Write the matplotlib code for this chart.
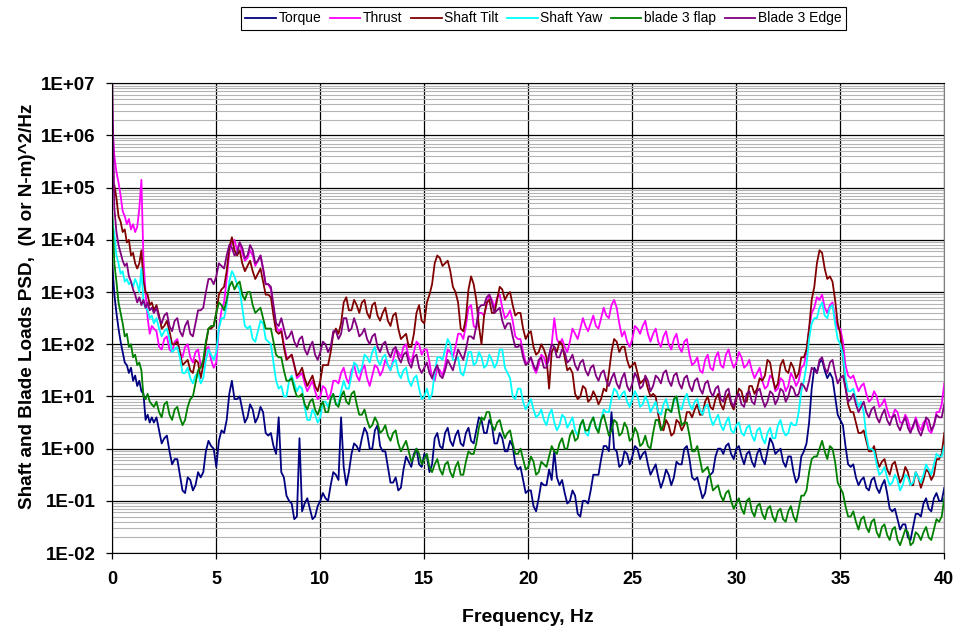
import numpy as np
import matplotlib
matplotlib.use("Agg")
import matplotlib.pyplot as plt
from matplotlib.ticker import FuncFormatter, LogLocator, NullFormatter

plt.rcParams["font.family"] = ["Liberation Sans", "DejaVu Sans"]

# frequency grid, Hz: 0.1 Hz steps below 2 Hz, then 0.25 Hz steps up to 40 Hz
freq = np.concatenate([np.arange(20) / 10.0, 2.0 + np.arange(153) * 0.25])
# extra readings half way between the 0.25 Hz points (2.125 ... 39.875 Hz)
freq_mid = 2.125 + np.arange(152) * 0.25

# PSD values, stored as log10 of (N or N-m)^2/Hz
torque_log = [
    3.55, 2.95, 2.6, 2.3, 2.05, 1.85, 1.65, 1.6, 1.45, 1.55,
    1.3, 1.4, 1.2, 1.3, 1.1, 1.05, 0.55, 0.65, 0.5, 0.6,
    0.5, 0.35, 0.2, -0.05,
    -0.2, -0.5, -0.85, -0.6,
    -0.7, -0.55, -0.05, 0.05,
    -0.35, 0.35, 0.55, 1.3,
    0.95, 0.75, 0.6, 0.75,
    0.6, 0.7, 0.25, 0.05,
    0.6, -0.55, -1.0, -1.35,
    0.2, -1.05, -1.15, -1.3,
    -1.0, -0.95, -0.7, -0.5,
    0.6, -0.7, -0.1, 0.05,
    0.2, 0.3, 0.0, 0.45,
    -0.05, -0.35, -0.65, -0.8,
    -0.4, -0.25, -0.1, -0.3,
    -0.1, -0.45, 0.2, 0.05,
    0.3, 0.15, 0.25, 0.1,
    0.3, 0.15, 0.35, 0.55,
    0.3, 0.45, 0.1, 0.2,
    -0.05, 0.05, -0.4, -0.6,
    -0.8, -1.1, -0.95, -0.7,
    -0.4, -0.05, -0.7, -0.85,
    -1.0, -0.9, -1.3, -1.0,
    -0.8, -0.5, -0.2, 0.05,
    0.7, -0.05, -0.3, -0.1,
    -0.15, 0.0, -0.1, -0.3,
    -0.4, -0.55, -0.6, -0.5,
    -0.55, -0.3, 0.0, -0.2,
    -0.6, -0.75, -0.85, -0.5,
    -0.15, 0.0, 0.05, -0.1,
    0.0, -0.15, -0.1, -0.25,
    -0.1, -0.2, -0.05, 0.1,
    -0.05, -0.25, -0.15, -0.45,
    -0.55, -0.05, 0.5, 1.55,
    1.65, 1.5, 1.45, 1.0,
    0.55, 0.05, -0.35, -0.55,
    -0.6, -0.75, -0.6, -0.75,
    -0.7, -0.85, -1.2, -1.35,
    -1.45, -1.7, -1.5, -1.25,
    -1.05, -1.15, -0.95, -1.0,
    -0.75,
]
torque_mid_log = [
    0.6, 0.1, 0.25, -0.3,
    -0.2, -0.8, -0.55, -0.8,
    -0.45, -0.45, 0.15, 0.0,
    0.15, 0.3, 1.05, 0.95,
    1.0, 0.5, 0.85, 0.5,
    0.8, 0.3, 0.3, -0.1,
    -0.45, -0.9, -1.05, -1.3,
    -1.2, -0.95, -1.35, -1.1,
    -0.85, -1.0, -0.45, -0.6,
    -0.35, -0.45, 0.1, -0.05,
    0.4, 0.0, 0.35, 0.05,
    -0.05, -0.65, -0.55, -0.75,
    -0.15, -0.35, 0.0, -0.35,
    -0.15, -0.3, 0.3, 0.0,
    0.4, 0.05, 0.35, 0.05,
    0.4, 0.1, 0.6, 0.3,
    0.55, 0.1, 0.3, -0.05,
    0.15, -0.3, -0.35, -0.85,
    -0.8, -1.2, -0.65, -0.7,
    -0.6, -0.55, -0.6, -1.05,
    -0.8, -1.25, -1.0, -1.05,
    -0.5, -0.5, 0.05, -0.05,
    0.0, -0.35, -0.05, -0.3,
    0.05, -0.2, -0.05, -0.5,
    -0.3, -0.75, -0.4, -0.7,
    -0.25, -0.3, 0.05, -0.55,
    -0.55, -0.95, -0.55, -0.45,
    0.0, -0.1, 0.1, -0.2,
    0.05, -0.3, -0.05, -0.35,
    0.0, -0.3, 0.2, -0.1,
    0.0, -0.35, -0.15, -0.65,
    -0.15, 0.1, 1.15, 1.45,
    1.7, 1.35, 1.35, 0.65,
    0.45, -0.3, -0.3, -0.7,
    -0.55, -0.8, -0.55, -0.85,
    -0.6, -1.15, -1.15, -1.55,
    -1.45, -1.75, -1.25, -1.3,
    -0.95, -1.2, -0.85, -1.0,
]

thrust_log = [
    6.2, 5.6, 5.3, 5.1, 4.85, 4.55, 4.45, 4.3, 4.4, 4.2,
    4.3, 4.15, 4.25, 4.6, 5.15, 3.6, 3.0, 2.5, 2.2, 2.35,
    2.3, 1.95, 2.1, 1.9,
    2.05, 1.85, 1.95, 1.75,
    1.85, 1.6, 1.9, 1.7,
    1.65, 2.65, 3.25, 3.95,
    3.8, 3.75, 3.65, 3.7,
    3.6, 3.45, 3.15, 2.7,
    2.25, 2.0, 1.75, 1.6,
    1.4, 1.25, 1.2, 1.1,
    1.0, 1.15, 1.05, 1.3,
    1.45, 1.35, 1.5, 1.4,
    1.5, 1.35, 1.4, 1.55,
    1.5, 1.6, 1.7, 1.85,
    1.95, 1.75, 1.85, 2.0,
    1.9, 1.65, 1.3, 1.5,
    1.6, 1.85, 1.95, 2.2,
    2.35, 2.75, 2.3, 2.6,
    2.75, 2.85, 2.9, 2.7,
    2.55, 2.45, 2.1, 1.85,
    1.65, 1.55, 1.6, 1.75,
    1.7, 2.5, 2.0, 1.95,
    2.05, 2.2, 2.3, 2.35,
    2.4, 2.35, 2.5, 2.55,
    2.75, 2.7, 2.15, 2.05,
    2.1, 2.3, 2.35, 2.2,
    2.2, 2.05, 2.15, 2.0,
    2.1, 1.95, 2.05, 1.8,
    1.65, 1.5, 1.7, 1.55,
    1.75, 1.6, 1.8, 1.7,
    1.65, 1.75, 1.6, 1.5,
    1.45, 1.3, 1.2, 1.35,
    1.15, 1.3, 1.2, 1.35,
    1.3, 1.6, 2.3, 2.7,
    2.85, 2.7, 2.75, 2.5,
    2.3, 1.6, 1.35, 1.25,
    1.2, 1.05, 0.95, 1.0,
    0.85, 0.75, 0.6, 0.7,
    0.5, 0.55, 0.4, 0.45,
    0.5, 0.35, 0.45, 0.7,
    1.25,
]
thrust_mid_log = [
    2.25, 1.9, 2.15, 1.85,
    2.1, 1.75, 2.0, 1.65,
    1.9, 1.6, 1.95, 1.55,
    2.3, 2.8, 3.75, 4.0,
    3.95, 3.6, 3.8, 3.5,
    3.7, 3.15, 3.05, 2.35,
    2.3, 1.75, 1.8, 1.35,
    1.45, 1.1, 1.3, 0.95,
    1.2, 0.95, 1.3, 1.25,
    1.55, 1.25, 1.6, 1.3,
    1.6, 1.2, 1.6, 1.4,
    1.7, 1.5, 1.9, 1.75,
    2.0, 1.65, 2.05, 1.8,
    1.9, 1.35, 1.55, 1.4,
    1.9, 1.75, 2.2, 2.1,
    2.7, 2.35, 2.6, 2.55,
    2.95, 2.7, 2.95, 2.5,
    2.65, 2.15, 2.1, 1.65,
    1.75, 1.45, 1.8, 1.6,
    2.0, 2.1, 2.1, 1.85,
    2.3, 2.1, 2.5, 2.25,
    2.55, 2.3, 2.7, 2.5,
    2.85, 2.4, 2.25, 1.95,
    2.35, 2.2, 2.45, 2.05,
    2.3, 1.95, 2.25, 1.9,
    2.2, 1.85, 2.1, 1.6,
    1.75, 1.45, 1.8, 1.5,
    1.85, 1.55, 1.9, 1.55,
    1.85, 1.55, 1.7, 1.35,
    1.55, 1.15, 1.4, 1.1,
    1.35, 1.1, 1.45, 1.2,
    1.55, 1.85, 2.6, 2.9,
    2.95, 2.6, 2.8, 2.3,
    2.05, 1.4, 1.4, 1.1,
    1.25, 0.9, 1.1, 0.8,
    0.95, 0.6, 0.75, 0.5,
    0.65, 0.35, 0.6, 0.35,
    0.55, 0.3, 0.7, 0.85,
]

tilt_log = [
    4.9, 5.05, 4.8, 4.45, 4.35, 4.15, 4.2, 3.95, 4.0, 3.7,
    3.75, 3.55, 3.45, 3.55, 3.8, 3.2, 3.0, 2.95, 2.75, 2.8,
    2.65, 2.55, 2.35, 2.25,
    2.0, 1.85, 1.65, 1.5,
    1.7, 1.35, 2.0, 2.3,
    2.6, 3.05, 3.4, 4.05,
    3.7, 3.55, 3.5, 3.4,
    3.35, 3.2, 2.95, 2.55,
    2.2, 1.95, 1.75, 1.6,
    1.45, 1.35, 1.3, 1.2,
    1.3, 1.6, 1.85, 2.3,
    2.4, 2.9, 2.65, 2.75,
    2.8, 2.6, 2.75, 2.55,
    2.6, 2.45, 2.55, 2.3,
    2.15, 1.95, 2.2, 2.75,
    2.4, 2.95, 3.55, 3.65,
    3.55, 3.4, 3.0, 2.3,
    2.5, 3.3, 2.85, 2.0,
    2.8, 2.6, 2.85, 3.05,
    2.95, 2.75, 2.6, 2.3,
    2.2, 1.95, 1.85, 1.9,
    1.15, 1.95, 2.05, 1.75,
    1.55, 1.05, 1.0, 1.15,
    0.95, 1.0, 0.95, 1.1,
    1.85, 2.05, 1.95, 1.7,
    1.6, 1.45, 1.3, 1.15,
    1.05, 0.65, 0.35, 0.45,
    0.3, 0.5, 0.45, 0.7,
    0.75, 0.65, 0.9, 0.8,
    0.95, 0.85, 0.95, 0.85,
    0.95, 1.1, 0.9, 1.2,
    1.15, 1.3, 1.7, 1.35,
    1.25, 1.7, 1.45, 1.55,
    1.45, 1.75, 2.3, 3.1,
    3.8, 3.45, 3.3, 2.85,
    2.2, 1.2, 0.7, 0.5,
    0.3, 0.15, -0.05, -0.2,
    -0.25, -0.4, -0.3, -0.45,
    -0.55, -0.45, -0.7, -0.55,
    -0.6, -0.45, -0.5, -0.2,
    0.3,
]
tilt_mid_log = [
    2.75, 2.3, 2.45, 2.0,
    2.05, 1.6, 1.7, 1.45,
    1.65, 1.6, 2.3, 2.35,
    2.95, 3.1, 3.85, 3.8,
    3.8, 3.4, 3.6, 3.25,
    3.45, 2.95, 2.9, 2.25,
    2.25, 1.7, 1.8, 1.4,
    1.55, 1.2, 1.4, 1.1,
    1.6, 1.6, 2.2, 2.2,
    2.8, 2.65, 2.85, 2.6,
    2.85, 2.5, 2.8, 2.45,
    2.7, 2.35, 2.6, 2.1,
    2.2, 1.95, 2.6, 2.45,
    2.8, 3.15, 3.7, 3.5,
    3.6, 3.1, 2.8, 2.25,
    3.05, 3.15, 2.35, 2.55,
    2.85, 2.6, 3.1, 2.85,
    3.0, 2.55, 2.6, 2.1,
    2.25, 1.8, 2.0, 1.75,
    1.85, 1.85, 2.0, 1.5,
    1.45, 0.95, 1.2, 0.9,
    1.1, 0.85, 1.15, 1.45,
    2.1, 1.85, 1.95, 1.55,
    1.65, 1.25, 1.35, 1.0,
    1.0, 0.4, 0.55, 0.25,
    0.55, 0.35, 0.7, 0.6,
    0.85, 0.65, 1.0, 0.75,
    1.05, 0.75, 1.05, 0.75,
    1.15, 0.9, 1.2, 1.05,
    1.35, 1.4, 1.65, 1.15,
    1.6, 1.5, 1.65, 1.35,
    1.75, 1.9, 2.85, 3.55,
    3.75, 3.25, 3.2, 2.4,
    1.8, 0.85, 0.7, 0.3,
    0.35, -0.05, 0.05, -0.35,
    -0.2, -0.5, -0.25, -0.65,
    -0.35, -0.7, -0.45, -0.75,
    -0.4, -0.6, -0.2, -0.1,
]

yaw_log = [
    4.4, 4.1, 3.7, 3.55, 3.35, 3.4, 3.2, 3.25, 3.15, 3.2,
    3.1, 3.25, 3.15, 3.0, 3.45, 2.8, 2.7, 2.65, 2.5, 2.55,
    2.4, 2.3, 2.25, 2.1,
    1.9, 1.75, 1.45, 1.35,
    1.4, 1.25, 1.7, 1.8,
    1.85, 2.5, 2.75, 3.4,
    3.15, 2.7, 2.3, 2.1,
    2.25, 2.4, 2.05, 1.65,
    1.15, 1.0, 1.3, 1.25,
    1.2, 0.8, 0.55, 0.65,
    0.6, 0.9, 0.95, 0.85,
    1.1, 1.15, 1.4, 1.6,
    1.55, 1.75, 1.85, 1.7,
    1.75, 1.6, 1.65, 1.45,
    1.5, 1.3, 1.35, 1.15,
    1.0, 0.95, 1.45, 1.75,
    1.9, 2.0, 1.7, 1.45,
    1.6, 1.85, 1.65, 1.75,
    1.6, 1.7, 1.65, 1.9,
    1.45, 1.0, 1.15, 0.9,
    0.85, 0.75, 0.65, 0.55,
    0.65, 0.5, 0.45, 0.6,
    0.5, 0.35, 0.45, 0.3,
    0.5, 0.4, 0.55, 0.7,
    0.95, 1.1, 1.05, 0.9,
    0.95, 1.0, 0.85, 0.9,
    0.8, 0.7, 0.85, 0.75,
    0.9, 0.8, 0.95, 0.85,
    0.9, 0.75, 0.8, 0.6,
    0.55, 0.45, 0.5, 0.35,
    0.45, 0.3, 0.4, 0.25,
    0.35, 0.2, 0.3, 0.2,
    0.45, 0.35, 0.3, 0.45,
    0.7, 1.3, 2.1, 2.5,
    2.7, 2.55, 2.7, 2.4,
    2.0, 1.35, 1.1, 0.95,
    0.9, 0.25, 0.0, -0.3,
    -0.45, -0.55, -0.65, -0.6,
    -0.7, -0.55, -0.65, -0.55,
    -0.5, -0.4, -0.3, -0.15,
    0.05,
]
yaw_mid_log = [
    2.5, 2.15, 2.3, 1.85,
    1.95, 1.45, 1.55, 1.25,
    1.45, 1.35, 1.9, 1.7,
    2.3, 2.5, 3.2, 3.3,
    3.05, 2.35, 2.35, 2.05,
    2.45, 2.1, 2.0, 1.3,
    1.2, 1.0, 1.4, 1.1,
    1.15, 0.55, 0.75, 0.5,
    0.9, 0.8, 1.05, 0.85,
    1.3, 1.15, 1.65, 1.45,
    1.8, 1.65, 1.95, 1.6,
    1.8, 1.5, 1.7, 1.35,
    1.55, 1.2, 1.4, 0.95,
    1.15, 1.05, 1.75, 1.7,
    2.1, 1.7, 1.75, 1.4,
    1.85, 1.6, 1.85, 1.55,
    1.8, 1.55, 1.9, 1.55,
    1.35, 0.95, 1.15, 0.75,
    0.95, 0.6, 0.75, 0.45,
    0.75, 0.35, 0.65, 0.4,
    0.6, 0.25, 0.55, 0.25,
    0.6, 0.35, 0.75, 0.7,
    1.15, 0.95, 1.1, 0.8,
    1.1, 0.8, 1.0, 0.7,
    0.9, 0.65, 0.95, 0.7,
    1.0, 0.75, 1.05, 0.75,
    0.95, 0.65, 0.85, 0.45,
    0.65, 0.35, 0.6, 0.3,
    0.5, 0.25, 0.45, 0.15,
    0.4, 0.1, 0.4, 0.2,
    0.55, 0.25, 0.5, 0.45,
    1.1, 1.6, 2.4, 2.5,
    2.8, 2.5, 2.75, 2.1,
    1.8, 1.1, 1.15, 0.8,
    0.7, 0.0, -0.05, -0.5,
    -0.35, -0.7, -0.5, -0.8,
    -0.5, -0.7, -0.45, -0.65,
    -0.3, -0.5, -0.1, -0.15,
]

flap_log = [
    4.5, 3.55, 3.2, 2.8, 2.6, 2.4, 2.15, 2.2, 1.95, 2.0,
    1.75, 1.8, 1.6, 1.65, 1.5, 1.0, 0.95, 1.05, 0.9, 0.85,
    0.8, 0.7, 0.85, 0.65,
    0.75, 0.6, 0.55, 0.95,
    1.25, 1.55, 2.05, 2.35,
    2.6, 2.75, 2.85, 3.2,
    3.15, 2.95, 3.0, 2.75,
    2.65, 2.5, 2.3, 2.05,
    1.75, 1.5, 1.3, 1.15,
    1.0, 0.85, 0.9, 0.75,
    0.8, 0.7, 0.95, 0.85,
    1.0, 0.9, 1.05, 0.85,
    0.65, 0.55, 0.45, 0.5,
    0.35, 0.25, 0.3, 0.1,
    0.05, -0.05, -0.15, -0.1,
    -0.2, -0.35, -0.3, -0.4,
    -0.3, -0.45, -0.35, -0.5,
    -0.25, -0.1, 0.1, 0.6,
    0.7, 0.45, 0.5, 0.35,
    0.3, 0.1, -0.1, -0.2,
    -0.35, -0.25, -0.45, -0.3,
    -0.15, -0.05, 0.1, 0.0,
    0.25, 0.15, 0.45, 0.35,
    0.5, 0.4, 0.55, 0.45,
    0.35, 0.5, 0.3, 0.4,
    0.2, 0.3, 0.1, 0.05,
    0.3, 0.55, 0.45, 0.75,
    0.95, 0.7, 0.5, 0.25,
    -0.05, -0.2, -0.4, -0.55,
    -0.75, -0.9, -0.85, -1.0,
    -1.05, -1.15, -1.0, -1.2,
    -1.1, -1.25, -1.15, -1.3,
    -1.2, -1.35, -1.2, -1.3,
    -1.15, -0.9, -0.45, -0.15,
    0.0, -0.05, 0.05, -0.25,
    -0.75, -1.1, -1.3, -1.4,
    -1.35, -1.5, -1.4, -1.6,
    -1.5, -1.65, -1.55, -1.75,
    -1.7, -1.6, -1.8, -1.65,
    -1.6, -1.7, -1.55, -1.4,
    -0.95,
]
flap_mid_log = [
    0.9, 0.6, 0.9, 0.55,
    0.8, 0.45, 0.8, 1.0,
    1.5, 1.7, 2.3, 2.35,
    2.8, 2.65, 3.1, 3.05,
    3.2, 2.85, 3.0, 2.6,
    2.7, 2.3, 2.3, 1.8,
    1.75, 1.3, 1.35, 1.0,
    1.05, 0.75, 0.95, 0.65,
    0.9, 0.7, 1.05, 0.8,
    1.1, 0.85, 1.1, 0.65,
    0.75, 0.4, 0.6, 0.3,
    0.45, 0.15, 0.35, -0.05,
    0.15, -0.25, 0.0, -0.3,
    -0.1, -0.45, -0.2, -0.5,
    -0.25, -0.55, -0.25, -0.5,
    -0.05, -0.1, 0.4, 0.55,
    0.7, 0.35, 0.55, 0.2,
    0.35, -0.1, 0.0, -0.4,
    -0.15, -0.5, -0.25, -0.35,
    0.05, -0.1, 0.2, 0.0,
    0.35, 0.2, 0.55, 0.35,
    0.6, 0.3, 0.65, 0.25,
    0.55, 0.25, 0.5, 0.15,
    0.4, 0.05, 0.25, 0.0,
    0.55, 0.35, 0.75, 0.7,
    1.0, 0.45, 0.5, -0.05,
    0.05, -0.45, -0.35, -0.8,
    -0.7, -1.0, -0.8, -1.15,
    -0.95, -1.25, -0.95, -1.3,
    -1.05, -1.35, -1.1, -1.4,
    -1.15, -1.4, -1.1, -1.4,
    -0.9, -0.8, -0.2, -0.15,
    0.15, -0.2, 0.0, -0.65,
    -0.85, -1.3, -1.2, -1.55,
    -1.3, -1.6, -1.35, -1.7,
    -1.45, -1.75, -1.5, -1.85,
    -1.55, -1.85, -1.6, -1.75,
    -1.5, -1.75, -1.35, -1.3,
]

edge_log = [
    7.0, 4.6, 4.15, 3.9, 3.75, 3.6, 3.5, 3.55, 3.3, 3.2,
    3.05, 2.95, 2.8, 2.9, 2.75, 2.85, 2.7, 2.8, 2.65, 2.7,
    2.6, 2.5, 2.55, 2.35,
    2.45, 2.25, 2.35, 2.2,
    2.4, 2.65, 3.0, 3.25,
    3.3, 3.5, 3.7, 3.85,
    3.75, 3.85, 3.7, 3.8,
    3.6, 3.45, 3.15, 2.75,
    2.35, 2.3, 2.15, 2.05,
    2.1, 1.9, 1.95, 1.8,
    1.85, 2.0, 1.95, 2.25,
    2.2, 2.5, 2.3, 2.35,
    2.2, 2.1, 2.15, 1.95,
    2.0, 1.85, 1.9, 1.75,
    1.8, 1.65, 1.75, 1.55,
    1.55, 1.45, 1.5, 1.4,
    1.5, 1.6, 1.7, 1.8,
    1.9, 2.15, 2.35, 2.75,
    2.9, 2.8, 2.65, 2.45,
    2.4, 2.15, 1.95, 1.75,
    1.65, 1.6, 1.7, 1.55,
    1.8, 1.95, 1.75, 1.85,
    1.7, 1.6, 1.65, 1.5,
    1.55, 1.4, 1.45, 1.3,
    1.35, 1.25, 1.35, 1.2,
    1.25, 1.35, 1.2, 1.3,
    1.2, 1.35, 1.45, 1.3,
    1.4, 1.25, 1.35, 1.2,
    1.3, 1.15, 1.25, 1.1,
    1.15, 0.95, 1.1, 0.9,
    1.0, 0.85, 1.05, 0.9,
    1.1, 0.95, 0.9, 1.05,
    0.95, 1.1, 1.0, 1.15,
    1.05, 1.2, 1.3, 1.5,
    1.7, 1.55, 1.65, 1.45,
    1.35, 1.15, 0.95, 0.85,
    0.8, 0.7, 0.75, 0.6,
    0.65, 0.55, 0.6, 0.45,
    0.5, 0.4, 0.45, 0.35,
    0.4, 0.55, 0.45, 0.6,
    0.85,
]
edge_mid_log = [
    2.7, 2.4, 2.6, 2.25,
    2.5, 2.15, 2.45, 2.15,
    2.65, 2.7, 3.25, 3.15,
    3.55, 3.45, 3.9, 3.7,
    3.95, 3.65, 3.9, 3.55,
    3.7, 3.15, 3.1, 2.4,
    2.5, 2.1, 2.25, 1.95,
    2.15, 1.8, 2.05, 1.7,
    2.05, 1.85, 2.25, 2.1,
    2.5, 2.25, 2.5, 2.15,
    2.3, 2.0, 2.2, 1.85,
    2.05, 1.75, 1.95, 1.65,
    1.85, 1.55, 1.8, 1.45,
    1.65, 1.35, 1.6, 1.35,
    1.7, 1.5, 1.9, 1.7,
    2.15, 2.1, 2.7, 2.75,
    2.95, 2.6, 2.7, 2.3,
    2.4, 1.95, 2.0, 1.6,
    1.75, 1.5, 1.75, 1.55,
    2.0, 1.75, 1.9, 1.65,
    1.8, 1.5, 1.7, 1.4,
    1.6, 1.3, 1.5, 1.2,
    1.45, 1.15, 1.45, 1.1,
    1.45, 1.15, 1.4, 1.1,
    1.4, 1.25, 1.5, 1.2,
    1.45, 1.15, 1.4, 1.1,
    1.35, 1.05, 1.3, 1.0,
    1.2, 0.9, 1.15, 0.8,
    1.05, 0.8, 1.1, 0.85,
    1.15, 0.8, 1.1, 0.85,
    1.15, 0.9, 1.2, 1.0,
    1.25, 1.1, 1.55, 1.45,
    1.75, 1.45, 1.7, 1.25,
    1.4, 0.9, 1.05, 0.7,
    0.9, 0.6, 0.8, 0.5,
    0.75, 0.45, 0.65, 0.35,
    0.6, 0.3, 0.55, 0.25,
    0.6, 0.35, 0.65, 0.6,
]

names = ["Torque", "Thrust", "Shaft Tilt", "Shaft Yaw", "blade 3 flap", "Blade 3 Edge"]
colors = ["#000080", "#FF00FF", "#800000", "#00FFFF", "#008000", "#800080"]
series = [
    (torque_log, torque_mid_log),
    (thrust_log, thrust_mid_log),
    (tilt_log, tilt_mid_log),
    (yaw_log, yaw_mid_log),
    (flap_log, flap_mid_log),
    (edge_log, edge_mid_log),
]

# merge the two reading grids into one sorted frequency axis
f_all = np.concatenate([freq, freq_mid])
order = np.argsort(f_all, kind="stable")

fig = plt.figure(figsize=(9.58, 6.31), dpi=100)
ax = fig.add_axes([0.1172, 0.1235, 0.8685, 0.7446])

for name, (vals, mids), col in zip(names, series, colors):
    assert len(vals) == len(freq) and len(mids) == len(freq_mid), name
    y = np.concatenate([vals, mids])[order]
    ax.plot(f_all[order], 10.0 ** y, color=col, lw=1.3, label=name)

ax.set_yscale("log")
ax.set_ylim(1e-2, 1e7)
ax.set_xlim(0, 40)
ax.set_xticks(range(0, 41, 5))
ax.yaxis.set_major_locator(LogLocator(base=10, numticks=20))
ax.yaxis.set_minor_locator(LogLocator(base=10, subs=np.arange(2, 10), numticks=20))
ax.yaxis.set_major_formatter(FuncFormatter(lambda v, p: f"{v:.0E}"))
ax.yaxis.set_minor_formatter(NullFormatter())

ax.set_axisbelow(True)
ax.grid(which="major", axis="both", color="black", lw=0.9)
ax.grid(which="minor", axis="y", color="#b4b4b4", lw=0.8)

ax.tick_params(which="major", direction="out", length=4, width=0.9)
ax.tick_params(axis="x", which="major", pad=9, labelsize=13)
ax.tick_params(axis="y", which="major", pad=8, labelsize=13.5)
ax.tick_params(which="minor", length=0)
for lab in ax.get_xticklabels() + ax.get_yticklabels():
    lab.set_fontweight("bold")

ax.spines["left"].set_color("black")
ax.spines["bottom"].set_color("black")
ax.spines["top"].set_color("black")
ax.spines["right"].set_color("#808080")

ax.set_xlabel("Frequency, Hz", fontsize=14, fontweight="bold", va="center")
ax.xaxis.set_label_coords(0.5, -0.138)
ax.set_ylabel("Shaft and Blade Loads PSD,  (N or N-m)^2/Hz", fontsize=13.6,
              fontweight="bold", va="center")
ax.yaxis.set_label_coords(-0.1013, 0.5255)

leg = fig.legend(loc="center", bbox_to_anchor=(0.5673, 0.9707), ncol=6, fontsize=10,
                 handlelength=2.2, handletextpad=0.2, columnspacing=0.6, borderpad=0.3,
                 frameon=True, fancybox=False, edgecolor="black", framealpha=1)
leg.get_frame().set_linewidth(0.8)

fig.savefig("out.png", dpi=100)
